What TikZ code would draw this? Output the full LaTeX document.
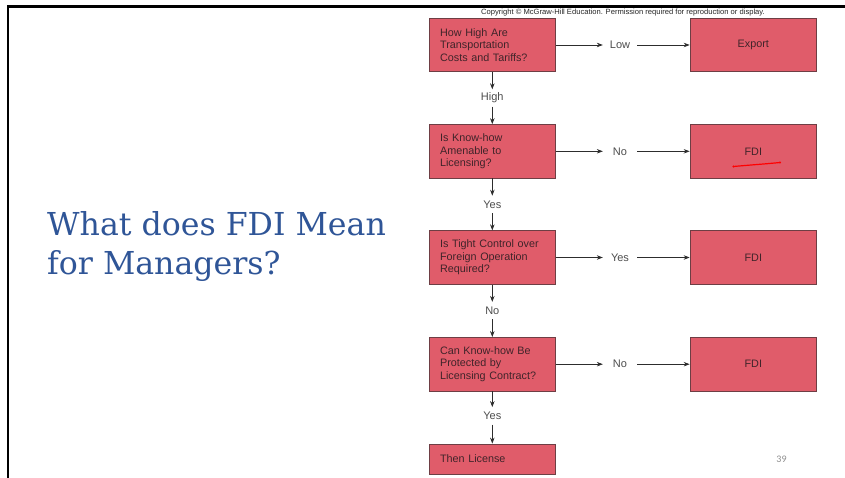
\documentclass[tikz,border=0pt]{standalone}
\usepackage{fontspec}
\setsansfont{Liberation Sans}
\newfontfamily\titlefont{DejaVu Serif}
\newfontfamily\numfont{Carlito}
\usepackage{tikz}
\usetikzlibrary{arrows.meta}

\definecolor{boxfill}{RGB}{224,92,106}
\definecolor{boxline}{RGB}{110,62,68}
\definecolor{boxtext}{RGB}{64,36,42}
\definecolor{titleblue}{RGB}{47,85,151}
\definecolor{arrowgrey}{RGB}{45,45,45}

\tikzset{
  qbox/.style={draw=boxline,fill=boxfill,line width=0.8pt,text=boxtext,
    text width=104.5pt,inner xsep=11pt,inner ysep=0pt,minimum height=53.5pt,
    align=left,font=\sffamily\fontsize{10.8}{12.6}\selectfont},
  abox/.style={draw=boxline,fill=boxfill,line width=0.8pt,text=boxtext,
    minimum width=126.5pt,minimum height=53.5pt,inner sep=0pt,
    font=\sffamily\fontsize{10.8}{12.6}\selectfont},
  ans/.style={text=black!70,inner sep=0pt,font=\sffamily\fontsize{11}{12}\selectfont},
  hans/.style={ans,minimum width=34pt},
  vans/.style={ans,minimum height=17pt},
  flow/.style={draw=arrowgrey,line width=0.7pt,-{Stealth[length=6pt,width=4.5pt]}}
}

\begin{document}
\begin{tikzpicture}[x=1pt,y=-1pt]
  \useasboundingbox (0,0) rectangle (845,478);
  \draw[line width=2.6pt] (7.8,478) -- (7.8,6.5) -- (845,6.5);

  \node (title) at (47,274) [anchor=base west,align=left,text=titleblue,inner sep=0pt,
    font=\titlefont\fontsize{31.6}{39}\selectfont] {What does FDI Mean\\for Managers?};
  \node (copy) at (623,13) [inner sep=0pt,text=black!85,
    font=\sffamily\fontsize{7.6}{8}\selectfont]
    {Copyright \textcopyright\ McGraw-Hill Education. Permission required for reproduction or display.};

  \node (cost) at (492.3,45) [qbox] {How High Are\\Transportation\\Costs and Tariffs?};
  \node (know) at (492.3,151.3) [qbox] {Is Know-how\\Amenable to\\Licensing?};
  \node (ctrl) at (492.3,257.5) [qbox] {Is Tight Control over\\Foreign Operation\\Required?};
  \node (prot) at (492.3,364.2) [qbox] {Can Know-how Be\\Protected by\\Licensing Contract?};
  \node (lic) at (492.3,459) [qbox,minimum height=30pt] {Then License};

  \node (export) at (753.3,45) [abox] {Export};
  \node (fdi1) at (753.3,151.3) [abox] {FDI};
  \node (fdi2) at (753.3,257.5) [abox] {FDI};
  \node (fdi3) at (753.3,364.2) [abox] {FDI};

  \node (low) at (620,45) [hans] {Low};
  \node (no1) at (620,151.3) [hans] {No};
  \node (yes2) at (620,257.5) [hans] {Yes};
  \node (no3) at (620,364.2) [hans] {No};

  \node (high) at (492.3,98) [vans] {High};
  \node (yes1) at (492.3,204.4) [vans] {Yes};
  \node (no2) at (492.3,310.6) [vans] {No};
  \node (yes3) at (492.3,415.8) [vans] {Yes};

  \draw[flow] (cost) -- (low);
  \draw[flow] (low) -- (export);
  \draw[flow] (know) -- (no1);
  \draw[flow] (no1) -- (fdi1);
  \draw[flow] (ctrl) -- (yes2);
  \draw[flow] (yes2) -- (fdi2);
  \draw[flow] (prot) -- (no3);
  \draw[flow] (no3) -- (fdi3);

  \draw[flow] (cost) -- (high);
  \draw[flow] (high) -- (know);
  \draw[flow] (know) -- (yes1);
  \draw[flow] (yes1) -- (ctrl);
  \draw[flow] (ctrl) -- (no2);
  \draw[flow] (no2) -- (prot);
  \draw[flow] (prot) -- (yes3);
  \draw[flow] (yes3) -- (lic);

  % pen mark
  \draw[red,line width=1.2pt,line cap=round] (733.5,166.5) .. controls (750,165) and (765,164) .. (780,162.5);
  \fill[red] (733.5,166.5) circle (1.1) (780,162.5) circle (1.1);

  \node (page) at (781.5,459) [text=black!45,inner sep=0pt,
    font=\numfont\fontsize{10}{11}\selectfont] {39};
\end{tikzpicture}
\end{document}
